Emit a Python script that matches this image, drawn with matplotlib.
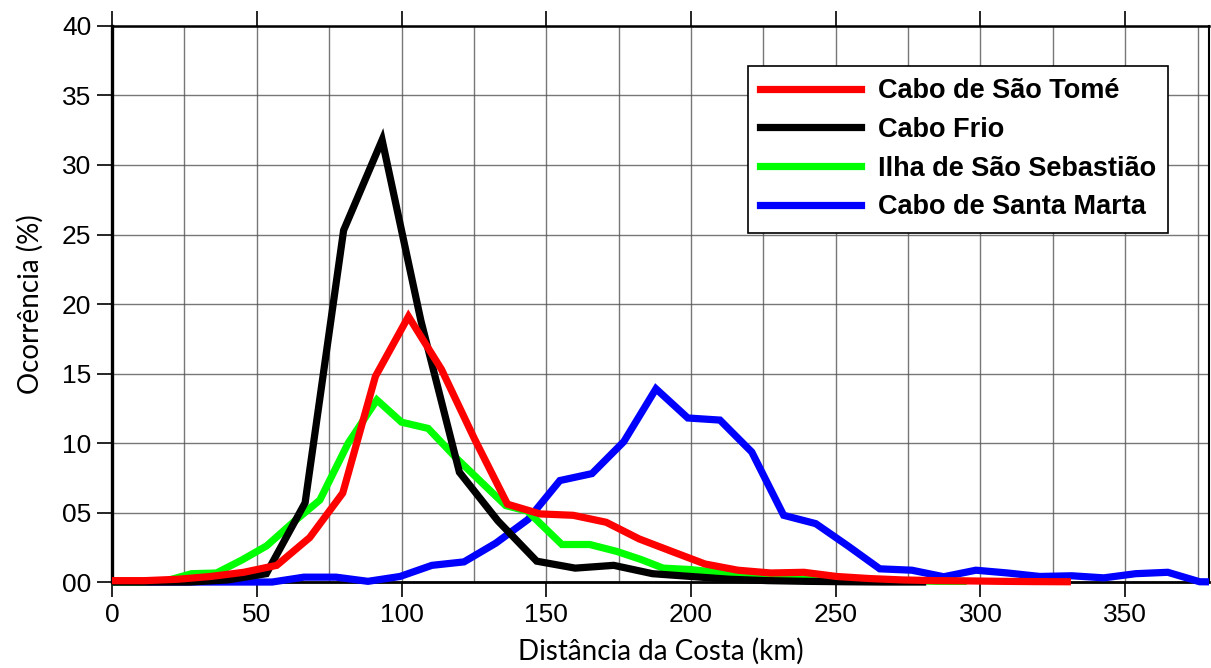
import numpy as np
import matplotlib
matplotlib.use('Agg')
import matplotlib.pyplot as plt
from matplotlib.ticker import MultipleLocator, FuncFormatter
from matplotlib.transforms import Bbox, TransformedBbox

# Distance (km) of each point and occurrence (%) per site
x_sao_tome = [0, 11.4, 22.8, 34.1, 45.5, 56.9, 68.3, 79.7, 91.0, 102.4,
              113.8, 125.2, 136.6, 147.9, 159.3, 170.7, 182.1, 193.4, 204.8, 216.2,
              227.6, 239.0, 250.3, 261.7, 273.1, 284.5, 295.9, 307.2, 318.6, 330.0]
y_sao_tome = [0.1, 0.1, 0.2, 0.4, 0.7, 1.2, 3.2, 6.4, 14.8, 19.1,
              15.3, 10.3, 5.6, 4.9, 4.8, 4.3, 3.1, 2.2, 1.3, 0.85,
              0.65, 0.7, 0.4, 0.25, 0.15, 0.1, 0.08, 0.05, 0.03, 0.02]

x_cabo_frio = [0, 13.3, 26.7, 40.0, 53.3, 66.7, 80.0, 93.3, 106.7, 120.0,
               133.3, 146.7, 160.0, 173.3, 186.7, 200.0, 213.3, 226.7, 240.0, 253.3,
               266.7, 280.0]
y_cabo_frio = [0, 0, 0, 0.15, 0.6, 5.7, 25.3, 31.8, 18.8, 7.9,
               4.4, 1.5, 1.0, 1.2, 0.6, 0.4, 0.2, 0.1, 0.05, 0.02,
               0, 0]

x_sebastiao = [0, 9.4, 18.9, 27.5, 36.1, 45.0, 53.4, 62.6, 71.8, 81.6,
               91.5, 100.0, 109.2, 119.0, 127.5, 136.0, 143.5, 155.4, 165.0, 174.4,
               183.0, 190.4, 199.6, 209.0, 218.0, 228.0, 238.0, 248.0, 258.0, 267.0,
               276.0, 285.0, 294.0]
y_sebastiao = [0, 0, 0.1, 0.6, 0.65, 1.6, 2.6, 4.3, 5.9, 10.0,
               13.1, 11.5, 11.05, 8.9, 7.2, 5.5, 5.1, 2.7, 2.7, 2.2,
               1.6, 1.0, 0.9, 0.7, 0.4, 0.3, 0.2, 0.2, 0.15, 0.1,
               0.1, 0.05, 0.05]

x_santa_marta = [0, 11.0, 22.1, 33.1, 44.2, 55.3, 66.3, 77.4, 88.4, 99.5,
                 110.5, 121.6, 132.6, 143.7, 154.7, 165.8, 176.8, 187.9, 198.9, 210.0,
                 221.0, 232.0, 243.1, 254.2, 265.2, 276.3, 287.3, 298.4, 309.4, 320.5,
                 331.5, 342.6, 353.6, 364.7, 375.7, 386.8]
y_santa_marta = [0, 0, 0, 0, 0, 0, 0.35, 0.35, 0.05, 0.4,
                 1.2, 1.45, 2.8, 4.5, 7.3, 7.8, 10.1, 13.9, 11.8, 11.65,
                 9.35, 4.8, 4.2, 2.6, 0.95, 0.85, 0.38, 0.85, 0.65, 0.4,
                 0.45, 0.3, 0.6, 0.7, 0.02, 0]

series = [
    ('Cabo de São Tomé', x_sao_tome, y_sao_tome, '#ff0000'),
    ('Cabo Frio', x_cabo_frio, y_cabo_frio, '#000000'),
    ('Ilha de São Sebastião', x_sebastiao, y_sebastiao, '#00ff00'),
    ('Cabo de Santa Marta', x_santa_marta, y_santa_marta, '#0000ff'),
]

fig = plt.figure(figsize=(12.11, 6.68), dpi=100)
ax = fig.add_axes([0.0925, 0.1287, 0.906, 0.8324])

# draw in reverse so red ends on top like the reference
lines = {}
for name, xs, ys, col in series[::-1]:
    ln, = ax.plot(xs, ys, color=col, linewidth=5.2, solid_joinstyle='miter',
                  label=name, zorder=3)
    lines[name] = ln

ax.set_xlim(0, 379)
ax.set_ylim(0, 40)

# let the thick lines spill a bit below the zero line
clip = TransformedBbox(Bbox([[0, -0.03], [1, 1]]), ax.transAxes)
for ln in lines.values():
    ln.set_clip_box(clip)

ax.xaxis.set_major_locator(MultipleLocator(50))
ax.xaxis.set_minor_locator(MultipleLocator(25))
ax.yaxis.set_major_locator(MultipleLocator(5))
ax.yaxis.set_major_formatter(FuncFormatter(lambda v, p: '%02d' % v))

ax.grid(True, which='both', color='#555555', linewidth=1.0, alpha=0.8, zorder=0)
ax.set_axisbelow(True)

ax.tick_params(axis='both', which='major', direction='out', length=11, width=1.2,
               labelsize=19, pad=4, top=True, labeltop=False)
ax.tick_params(axis='both', which='minor', length=0)
for lab in ax.get_xticklabels() + ax.get_yticklabels():
    lab.set_fontfamily('Liberation Sans')

ax.spines['left'].set_linewidth(2.4)
ax.spines['bottom'].set_linewidth(2.0)
ax.spines['top'].set_linewidth(1.8)
ax.spines['right'].set_linewidth(1.5)

ax.set_xlabel('Distância da Costa (km)', fontfamily='Lato', fontsize=20, labelpad=8)
ax.set_ylabel('Ocorrência (%)', fontfamily='Lato', fontsize=20, labelpad=13)

handles = [lines[s[0]] for s in series]
leg = ax.legend(handles=handles, loc='upper left', bbox_to_anchor=(0.5798, 0.928),
                frameon=True, fancybox=False, edgecolor='black', framealpha=1,
                handlelength=3.7, handletextpad=0.65, labelspacing=0.47,
                borderpad=0.45, borderaxespad=0,
                prop={'family': 'Liberation Sans', 'weight': 'bold', 'size': 19.5})
leg.get_frame().set_linewidth(1.2)
leg.set_zorder(5)

fig.savefig('out.png', dpi=100)
